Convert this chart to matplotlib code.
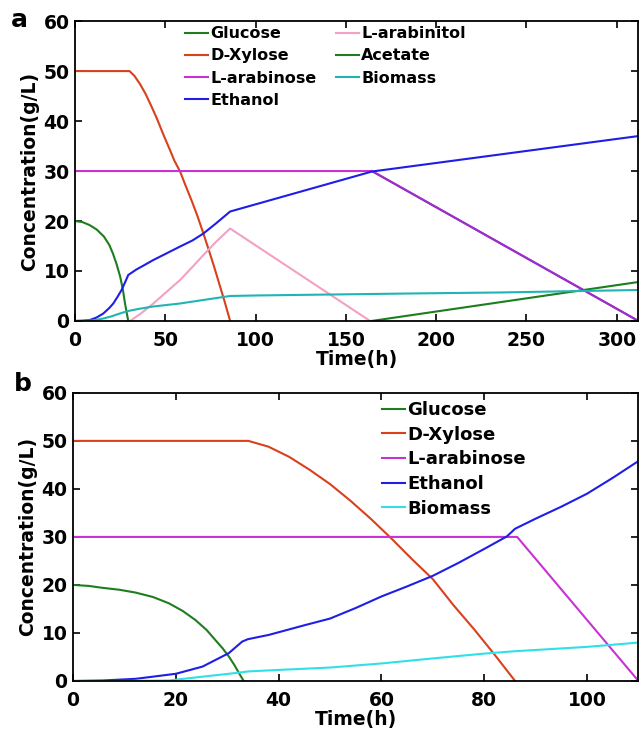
import matplotlib
matplotlib.use("Agg")
import matplotlib.pyplot as plt

plt.rcParams['font.family'] = ['DejaVu Sans']
plt.rcParams['font.weight'] = 'bold'
plt.rcParams['axes.labelweight'] = 'bold'

# ---- panel a ----
t_glc_a = [0, 4, 8, 12, 16, 19, 21, 23, 25, 26.5, 27.7, 28.7, 29.5]
glc_a = [20, 19.8, 19.2, 18.3, 16.9, 15.2, 13.5, 11.4, 8.9, 6.3, 3.5, 1.5, 0]

t_xyl_a = [0, 30.2, 33, 36, 39, 42, 45, 49.4, 52.6, 55, 58.2, 61, 65, 68, 71.1, 74, 77, 80, 83, 85.9]
xyl_a = [50, 50, 49.0, 47.4, 45.5, 43.2, 40.8, 36.9, 34.2, 32.1, 29.9, 27.3, 23.7, 20.8, 17.5, 14.3, 10.9, 7.3, 3.7, 0]

t_ara_a = [0, 164.4, 312]
ara_a = [30, 30, 0]

t_eth_a = [0, 4, 8.3, 12, 15.7, 19, 21.2, 23.5, 25.8, 27.8, 29.5, 34, 38, 43.4, 50, 58.2, 65, 71.1, 78, 85.9, 164.4, 312]
eth_a = [0, 0.05, 0.2, 0.7, 1.5, 2.6, 3.5, 4.8, 6.2, 7.8, 9.2, 10.3, 11.1, 12.2, 13.4, 14.9, 16.1, 17.5, 19.5, 21.9, 29.9, 37.0]

t_aol_a = [30.5, 36.5, 43.4, 50, 58.2, 65, 71.1, 78, 85.9, 163.4]
aol_a = [0, 1.5, 3.5, 5.6, 8.2, 10.8, 13.2, 15.8, 18.5, 0]

t_ace_a = [164.2, 312]
ace_a = [0, 7.8]

t_bio_a = [0, 10, 15.7, 20, 24.9, 29.5, 35, 43.4, 58.2, 71.1, 85.9, 100, 185.6, 235, 312]
bio_a = [0, 0.1, 0.5, 0.9, 1.5, 2.0, 2.4, 2.9, 3.5, 4.2, 5.0, 5.1, 5.5, 5.7, 6.2]

# ---- panel b ----
t_glc_b = [0, 3, 5.7, 9, 12.2, 15.5, 18.6, 21.3, 23.8, 26, 27.7, 29.1, 30.3, 31.4, 32.3, 33.2]
glc_b = [20, 19.8, 19.4, 19.0, 18.4, 17.5, 16.2, 14.6, 12.7, 10.6, 8.5, 6.8, 5.1, 3.3, 1.6, 0]

t_xyl_b = [0, 34.1, 38, 42, 46, 50, 54, 58, 62, 66, 70, 74, 78, 82, 86]
xyl_b = [50, 50, 48.8, 46.7, 44.0, 41.0, 37.5, 33.7, 29.6, 25.3, 21.2, 15.8, 10.8, 5.5, 0]

t_ara_b = [0, 86.4, 110]
ara_b = [30, 30, 0]

t_eth_b = [0, 5.7, 12.2, 20, 25.2, 30.3, 32.9, 34, 38.1, 45, 50, 55, 60, 65, 70, 75, 80, 84.4, 86, 90, 95, 100, 105, 110]
eth_b = [0, 0.1, 0.45, 1.5, 3.0, 5.8, 8.2, 8.7, 9.6, 11.6, 13.0, 15.2, 17.6, 19.7, 21.9, 24.6, 27.5, 30.1, 31.7, 33.8, 36.3, 39.0, 42.3, 45.8]

t_bio_b = [0, 10, 18.6, 25.2, 30.3, 34.2, 40, 50, 60, 70, 80, 86, 100, 110]
bio_b = [0, 0, 0.1, 0.9, 1.5, 2.0, 2.3, 2.8, 3.65, 4.7, 5.7, 6.2, 7.1, 8.0]

c_glc = '#1e7d1e'
c_xyl = '#d9401c'
c_ara = '#c832d2'
c_eth = '#1e1ee6'
c_aol = '#f4a0c4'


def style_axes(ax, xmax, xticks):
    ax.set_xlim(0, xmax)
    ax.set_ylim(0, 60)
    ax.set_xticks(xticks)
    ax.set_yticks(range(0, 61, 10))
    ax.tick_params(direction='in', top=True, right=True, length=5, width=1.2,
                   labelsize=13.5, pad=4)
    ax.tick_params(axis='x', pad=7)
    for s in ax.spines.values():
        s.set_linewidth(1.3)
    ax.set_xlabel('Time(h)', fontsize=13.5, labelpad=0)
    ax.set_ylabel('Concentration(g/L)', fontsize=13.5, labelpad=3)


fig = plt.figure(figsize=(6.41, 7.35), dpi=100)

lw = 1.5
ax1 = fig.add_axes([0.117, 0.5633, 0.879, 0.408])
ax1.plot(t_glc_a, glc_a, color=c_glc, lw=lw, label='Glucose')
ax1.plot(t_xyl_a, xyl_a, color=c_xyl, lw=lw, label='D-Xylose')
ax1.plot(t_ara_a, ara_a, color=c_ara, lw=lw, label='L-arabinose')
ax1.plot(t_ara_a[1:], ara_a[1:], color='#9530c8', lw=lw)
ax1.plot(t_eth_a, eth_a, color=c_eth, lw=lw, label='Ethanol')
ax1.plot(t_aol_a, aol_a, color=c_aol, lw=lw, label='L-arabinitol')
ax1.plot(t_ace_a, ace_a, color=c_glc, lw=lw, label='Acetate')
ax1.plot(t_bio_a, bio_a, color='#20b4b4', lw=lw, label='Biomass')
style_axes(ax1, 312, range(0, 301, 50))
ax1.legend(loc='upper left', bbox_to_anchor=(0.195, 0.983), ncol=2, frameon=False,
           fontsize=11.5, handlelength=1.45, handletextpad=0.15, labelspacing=0.45,
           columnspacing=1.2, borderpad=0, borderaxespad=0)

ax2 = fig.add_axes([0.114, 0.0735, 0.882, 0.392])
ax2.plot(t_glc_b, glc_b, color=c_glc, lw=lw, label='Glucose')
ax2.plot(t_xyl_b, xyl_b, color=c_xyl, lw=lw, label='D-Xylose')
ax2.plot(t_ara_b, ara_b, color=c_ara, lw=lw, label='L-arabinose')
ax2.plot(t_eth_b, eth_b, color=c_eth, lw=lw, label='Ethanol')
ax2.plot(t_bio_b, bio_b, color='#30e0e8', lw=lw, label='Biomass')
style_axes(ax2, 110, range(0, 101, 20))
ax2.legend(loc='upper left', bbox_to_anchor=(0.547, 0.972), frameon=False,
           fontsize=13, handlelength=1.25, handletextpad=0.15, labelspacing=0.37,
           borderpad=0, borderaxespad=0)

fig.text(0.031, 0.973, 'a', fontsize=18, fontweight='bold', ha='center', va='center')
fig.text(0.036, 0.478, 'b', fontsize=18, fontweight='bold', ha='center', va='center')

fig.savefig('out.png', dpi=100)
